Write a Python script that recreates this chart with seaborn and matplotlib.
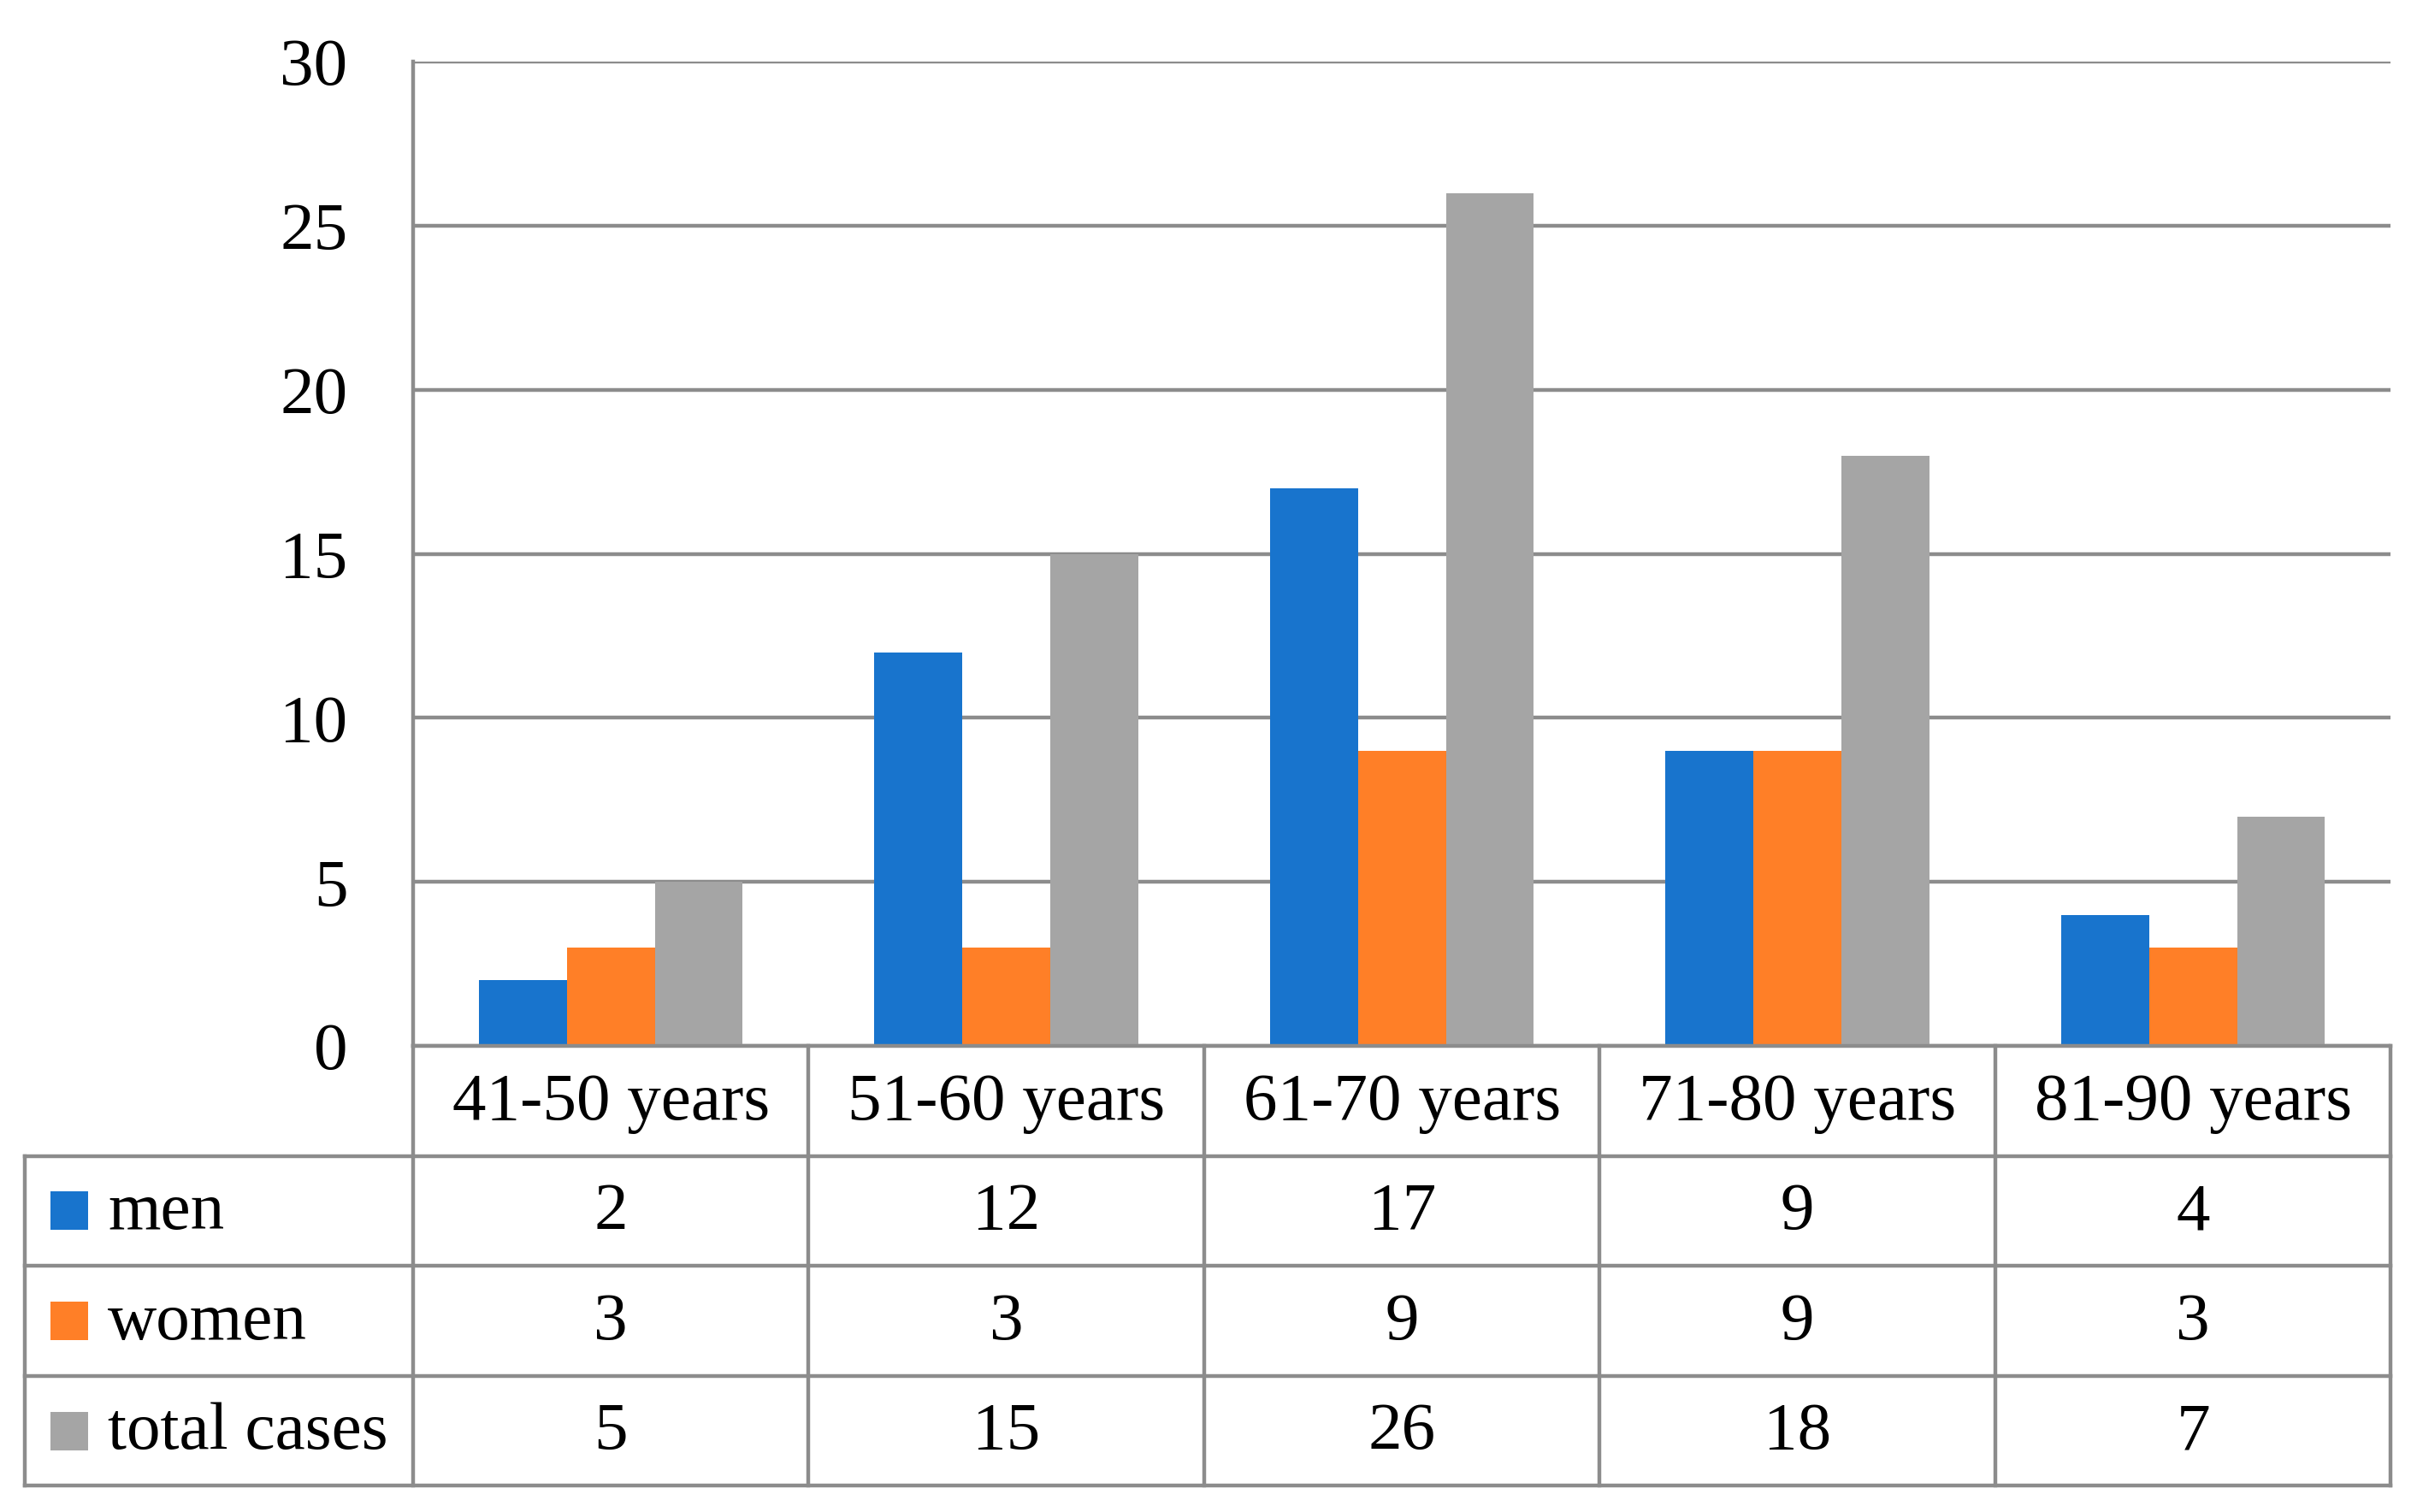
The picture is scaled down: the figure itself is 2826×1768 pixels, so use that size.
import matplotlib
matplotlib.use("Agg")
import matplotlib.pyplot as plt
from matplotlib.patches import Rectangle
import pandas as pd
import seaborn as sns

age_groups = ["41-50 years", "51-60 years", "61-70 years", "71-80 years", "81-90 years"]
series_names = ["men", "women", "total cases"]
men = [2, 12, 17, 9, 4]
women = [3, 3, 9, 9, 3]
total_cases = [5, 15, 26, 18, 7]
series_colors = ["#1874CD", "#FF7F27", "#A5A5A5"]
y_ticks = [0, 5, 10, 15, 20, 25, 30]

GRID = "#8C8C8C"
LW = 3.2
FS = 57

values = {"men": men, "women": women, "total cases": total_cases}
frame = pd.DataFrame(
    [(grp, name, val) for name in series_names for grp, val in zip(age_groups, values[name])],
    columns=["age_group", "series", "count"],
)

sns.set_theme(style="white")
plt.rcParams["font.family"] = ["Liberation Serif", "DejaVu Serif"]

fig = plt.figure(figsize=(28.26, 17.68), dpi=100)
ax_left, ax_right, ax_bottom, ax_top = 0.1709, 0.9892, 0.3082, 0.9592
ax = fig.add_axes([ax_left, ax_bottom, ax_right - ax_left, ax_top - ax_bottom])

sns.barplot(
    data=frame, x="age_group", y="count", hue="series", hue_order=series_names,
    order=age_groups, palette=series_colors, saturation=1, width=0.667,
    errorbar=None, legend=False, ax=ax, linewidth=0,
)

ax.set_xlim(-0.5, 4.5)
ax.set_ylim(0, 30)
ax.set_yticks(y_ticks)
ax.yaxis.grid(True, color=GRID, linewidth=LW)
ax.set_axisbelow(True)
for side in ["top", "right", "bottom"]:
    ax.spines[side].set_visible(False)
ax.spines["left"].set_color(GRID)
ax.spines["left"].set_linewidth(LW)
ax.tick_params(axis="x", length=0, labelbottom=False)
ax.tick_params(axis="y", length=0, pad=55, labelsize=FS, labelcolor="black")
ax.set_xlabel("")
ax.set_ylabel("")

# data table under the bars
unit = (ax_right - ax_left) / 5
tab_left = 0.0102
legend_w = (ax_left - tab_left) / unit
x0 = -0.5 - legend_w
tab = fig.add_axes([tab_left, 0.0173, ax_right - tab_left, ax_bottom - 0.0173])
tab.set_xlim(x0, 4.5)
tab.set_ylim(4, 0)
tab.axis("off")

line_kw = dict(color=GRID, linewidth=LW, clip_on=False, solid_capstyle="projecting")
tab.plot([-0.5, 4.5], [0, 0], **line_kw)
for r in [1, 2, 3, 4]:
    tab.plot([x0, 4.5], [r, r], **line_kw)
for c in range(6):
    tab.plot([c - 0.5, c - 0.5], [0, 4], **line_kw)
tab.plot([x0, x0], [1, 4], **line_kw)

for i, grp in enumerate(age_groups):
    tab.text(i, 0.52, grp, ha="center", va="center", fontsize=FS, color="black")
for r, name in enumerate(series_names):
    for i, val in enumerate(values[name]):
        tab.text(i, r + 1.52, str(val), ha="center", va="center", fontsize=FS, color="black")
    tab.add_patch(Rectangle((x0 + 0.066, r + 1.5 - 0.175), 0.094, 0.35,
                            facecolor=series_colors[r], edgecolor="none", clip_on=False))
    tab.text(x0 + 0.21, r + 1.52, name, ha="left", va="center", fontsize=FS, color="black")

fig.savefig("out.png", dpi=100)
